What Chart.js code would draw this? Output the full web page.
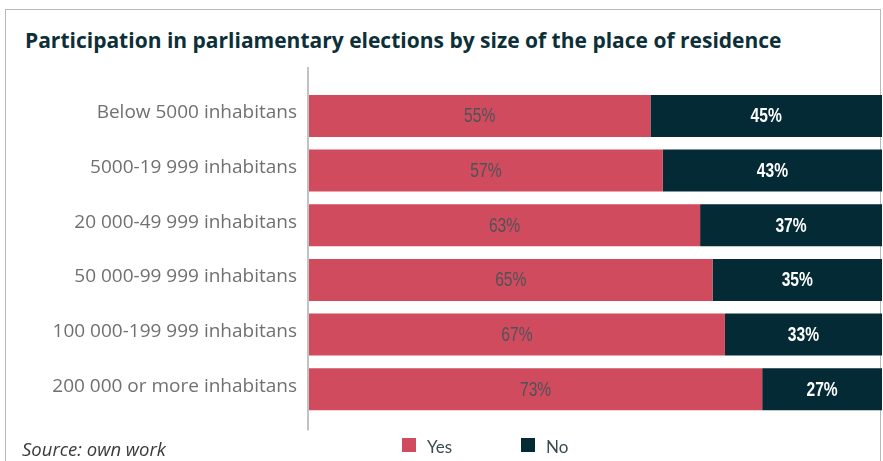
<!DOCTYPE html>
<html>
<head>
<meta charset="utf-8">
<script src="https://cdn.jsdelivr.net/npm/chart.js@4.4.1/dist/chart.umd.min.js"></script>
<style>
  html, body { margin: 0; padding: 0; background: #fff; }
  body { width: 883px; height: 461px; position: relative; overflow: hidden; font-family: "Open Sans", Lato, sans-serif; }
  .frame { position: absolute; left: 5px; top: 9px; width: 876px; height: 480px; border: 1px solid #b9b9b9; box-sizing: border-box; }
  .title { position: absolute; left: 25px; top: 29.6px; font-size: 21px; line-height: 21px; font-weight: 700; color: #0d2f38; white-space: nowrap; }
  .chart-wrap { position: absolute; left: 0; top: 60px; width: 882px; height: 380px; }
  .legend { position: absolute; left: 402px; top: 438px; display: flex; }
  .legend-item { display: flex; align-items: flex-end; width: 119px; height: 14px; font-family: Lato, sans-serif; font-size: 17px; line-height: 14px; color: #3b4a51; }
  .legend-item span:last-child { position: relative; top: 2px; }
  .legend-dot { width: 14px; height: 14px; margin-right: 11px; }
  .source { position: absolute; left: 22px; top: 440px; font-size: 18.5px; line-height: 18px; font-style: italic; font-weight: 400; color: #3a3a3a; }
</style>
</head>
<body>
<div class="frame"></div>
<div class="title">Participation in parliamentary elections by size of the place of residence</div>
<div class="chart-wrap"><canvas id="chart-bar"></canvas></div>
<div class="legend" id="bar-legend"></div>
<div class="source">Source: own work</div>

<script>
const CATEGORIES = [
  'Below 5000 inhabitans',
  '5000-19 999 inhabitans',
  '20 000-49 999 inhabitans',
  '50 000-99 999 inhabitans',
  '100 000-199 999 inhabitans',
  '200 000 or more inhabitans'
];
const YES = [55, 57, 63, 65, 67, 73];
const NO = [45, 43, 37, 35, 33, 27];
const SERIES = ['Yes', 'No'];
const COLORS = ['#d04b5d', '#032a35'];

// only the left part of the 0-100 range fits in the box
const X_MAX = 92.3;

// the value axis line runs a bit past the bars at both ends
const axisLine = {
  id: 'axisLine',
  afterDraw(chart) {
    const { ctx, chartArea } = chart;
    ctx.save();
    ctx.strokeStyle = '#c2c2c2';
    ctx.lineWidth = 2;
    ctx.beginPath();
    ctx.moveTo(chartArea.left - 1, chartArea.top - 21.6);
    ctx.lineTo(chartArea.left - 1, chartArea.bottom + 14);
    ctx.stroke();
    ctx.restore();
  }
};

// percentage labels in the middle of the visible part of each bar
const barLabels = {
  id: 'barLabels',
  afterDatasetsDraw(chart) {
    const { ctx, chartArea } = chart;
    chart.data.datasets.forEach((ds, di) => {
      const meta = chart.getDatasetMeta(di);
      meta.data.forEach((bar, i) => {
        const x0 = Math.max(Math.min(bar.base, bar.x), chartArea.left);
        const x1 = Math.min(Math.max(bar.base, bar.x), chartArea.right);
        const cx = (x0 + x1) / 2;
        ctx.save();
        ctx.translate(cx, bar.y + 1);
        ctx.scale(0.78, 1);
        ctx.font = (di === 0 ? '400' : '700') + ' 20px "Liberation Sans Narrow", "Liberation Sans", sans-serif';
        ctx.fillStyle = di === 0 ? '#4e5358' : '#ffffff';
        ctx.textAlign = 'center';
        ctx.textBaseline = 'middle';
        ctx.fillText(ds.data[i] + '%', 0, 0);
        ctx.restore();
      });
    });
  }
};

function renderBarChart() {
  const canvas = document.getElementById('chart-bar');
  const datasets = [YES, NO].map((d, i) => ({
    label: SERIES[i],
    data: d,
    backgroundColor: COLORS[i],
    borderWidth: 0,
    barPercentage: 0.768,
    categoryPercentage: 1
  }));

  new Chart(canvas.getContext('2d'), {
    type: 'bar',
    data: { labels: CATEGORIES, datasets },
    options: {
      indexAxis: 'y',
      responsive: true,
      maintainAspectRatio: false,
      animation: false,
      layout: { padding: { top: 28.6, bottom: 23.2, left: 0, right: 0 } },
      plugins: { legend: { display: false }, tooltip: { enabled: false } },
      scales: {
        x: { stacked: true, min: 0, max: X_MAX, display: false },
        y: {
          stacked: true,
          grid: { display: false, drawTicks: false },
          border: { display: false },
          ticks: {
            color: '#707070',
            padding: 12,
            labelOffset: -3,
            font: { family: '"Open Sans"', size: 19, weight: '400' }
          },
          afterFit(scale) { scale.width = 309; }
        }
      }
    },
    plugins: [axisLine, barLabels]
  });

  document.getElementById('bar-legend').innerHTML = SERIES.map((s, i) => `
    <div class="legend-item">
      <span class="legend-dot" style="background:${COLORS[i]}"></span>
      <span>${s}</span>
    </div>`).join('');
}

renderBarChart();
</script>
</body>
</html>
